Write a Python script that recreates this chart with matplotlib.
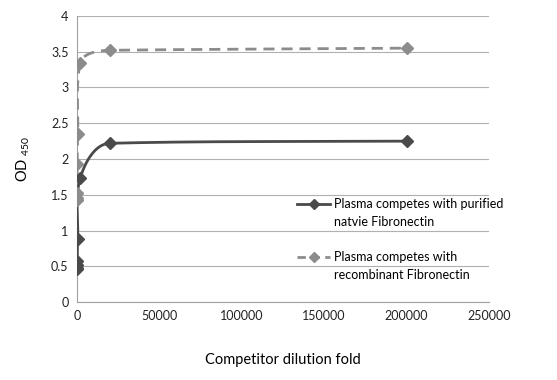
import matplotlib
matplotlib.use('Agg')
import matplotlib.pyplot as plt
import numpy as np

dilution = [10, 50, 100, 200, 500, 2000, 20000, 200000]
native = [0.46, 0.48, 0.52, 0.58, 0.88, 1.73, 2.22, 2.25]
recombinant = [1.43, 1.45, 1.53, 1.93, 2.35, 3.34, 3.52, 3.55]

labels = [['Plasma competes with purified', 'natvie Fibronectin'],
          ['Plasma competes with', 'recombinant Fibronectin']]
xticks = [0, 50000, 100000, 150000, 200000, 250000]
yticks = [0, 0.5, 1, 1.5, 2, 2.5, 3, 3.5, 4]

plt.rcParams['font.family'] = ['Lato', 'DejaVu Sans']
plt.rcParams['mathtext.default'] = 'regular'


def smooth(ax, x, y, n=60):
    # Excel-like smoothed line, computed in screen space
    pts = ax.transData.transform(np.column_stack([x, y]))
    tang = []
    for i in range(len(pts)):
        din = pts[i] - pts[max(i - 1, 0)]
        dout = pts[min(i + 1, len(pts) - 1)] - pts[i]
        m = din * np.linalg.norm(din) + dout * np.linalg.norm(dout)
        tang.append(m / (np.linalg.norm(m) or 1))
    t = np.linspace(0, 1, n)[:, None]
    out = []
    for i in range(len(pts) - 1):
        p1, p2 = pts[i], pts[i + 1]
        seg = np.linalg.norm(p2 - p1)
        c1 = p1 + tang[i] * seg / 3
        c2 = p2 - tang[i + 1] * seg / 3
        b = (1 - t) ** 3 * p1 + 3 * (1 - t) ** 2 * t * c1 + 3 * (1 - t) * t ** 2 * c2 + t ** 3 * p2
        out.append(b)
    out = ax.transData.inverted().transform(np.vstack(out))
    return out[:, 0], out[:, 1]


fig = plt.figure(figsize=(5.57, 3.8), dpi=100)
ax = fig.add_axes([0.138, 0.205, 0.74, 0.753])
ax.set_xlim(0, 250000)
ax.set_ylim(0, 4)

dark = '#4a4a4a'
light = '#8c8c8c'

sx, sy = smooth(ax, dilution, native)
ax.plot(sx, sy, color=dark, lw=2, zorder=3)
ax.plot(dilution, native, ls='none', marker='D', ms=6.5, color=dark, zorder=4)
sx, sy = smooth(ax, dilution, recombinant)
ax.plot(sx, sy, color=light, lw=2, ls=(0, (4, 2.5)), zorder=3)
ax.plot(dilution, recombinant, ls='none', marker='D', ms=6.5, color=light, zorder=4)

# two legends so the key sits beside the first line of each label
h1, = ax.plot([], [], color=dark, lw=2, marker='D', ms=5)
h2, = ax.plot([], [], color=light, lw=2, ls=(0, (3, 2)), marker='D', ms=5)
blank, = ax.plot([], [], ls='none')
leg_kw = dict(loc='upper left', frameon=False, fontsize=9, labelspacing=0.45,
              handlelength=2.6, handletextpad=0.3, borderpad=0)
leg1 = ax.legend([h1, blank], labels[0], bbox_to_anchor=(0.52, 0.385), **leg_kw)
ax.add_artist(leg1)
ax.legend([h2, blank], labels[1], bbox_to_anchor=(0.52, 0.20), **leg_kw)

ax.set_xticks(xticks)
ax.set_xticklabels([str(v) for v in xticks])
ax.set_yticks(yticks)
ax.set_yticklabels(['0', '0.5', '1', '1.5', '2', '2.5', '3', '3.5', '4'])
ax.tick_params(length=0, labelsize=9, colors='#222222', pad=6)
ax.grid(axis='y', color='#b0b0b0', lw=0.8)
ax.set_axisbelow(True)
for s in ['top', 'right']:
    ax.spines[s].set_visible(False)
ax.spines['left'].set_color('#a0a0a0')
ax.spines['bottom'].set_color('#a0a0a0')

ax.set_xlabel('Competitor dilution fold', fontsize=10.5, labelpad=22)
ax.set_ylabel('OD $_{450}$', fontsize=10.5, labelpad=14)

fig.savefig('out.png', dpi=100)
